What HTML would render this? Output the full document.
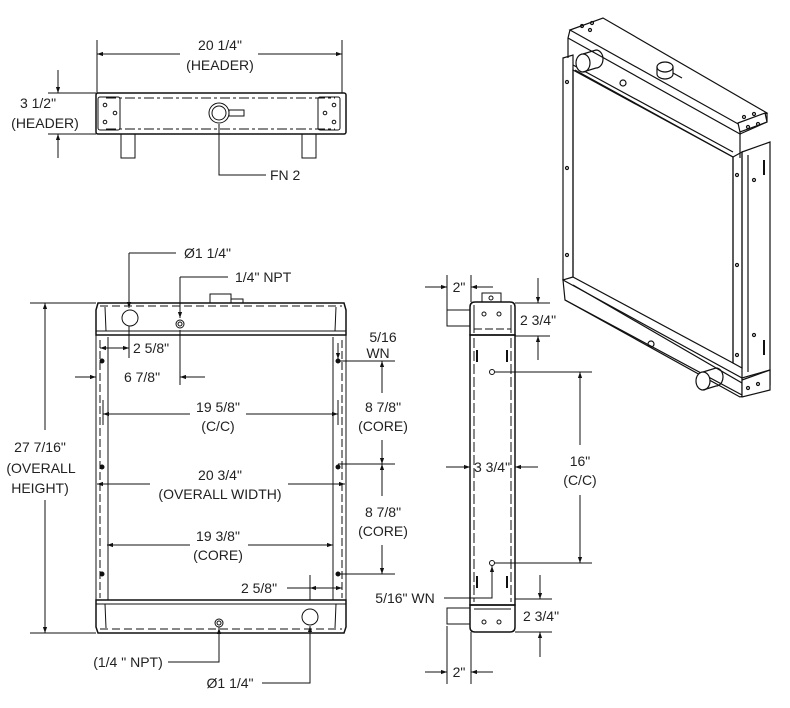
<!DOCTYPE html>
<html><head><meta charset="utf-8"><style>
html,body{margin:0;padding:0;background:#fff;width:790px;height:708px;overflow:hidden}
svg{display:block}
text{font-family:"Liberation Sans",sans-serif;font-size:14px;fill:#222;text-anchor:middle}
</style></head><body>
<svg width="790" height="708" viewBox="0 0 790 708" xmlns="http://www.w3.org/2000/svg">
<defs>
<marker id="a" viewBox="0 0 10 10" refX="10" refY="5" markerWidth="10" markerHeight="6" orient="auto-start-reverse" markerUnits="userSpaceOnUse"><path d="M0,1.5 L10,5 L0,8.5z" fill="#111"/></marker>
</defs>
<g stroke="#111" fill="none" stroke-width="1">
<!-- TOP VIEW -->
<line x1="97" y1="40" x2="97" y2="93"/><line x1="342" y1="40" x2="342" y2="93"/>
<line x1="97" y1="54" x2="180" y2="54" marker-start="url(#a)"/><line x1="258" y1="54" x2="342" y2="54" marker-end="url(#a)"/>
<rect x="96" y="93" width="250" height="41" rx="2" stroke-width="1.5"/>
<line x1="106" y1="98" x2="335" y2="98" stroke-dasharray="10,3,3,3"/>
<line x1="106" y1="129" x2="335" y2="129" stroke-dasharray="10,3,3,3"/>
<rect x="98" y="97" width="22" height="33" rx="2"/><rect x="318" y="97" width="22" height="33" rx="2"/>
<circle cx="105" cy="105" r="1.8"/><circle cx="115" cy="113" r="1.8"/><circle cx="105" cy="122" r="1.8"/>
<circle cx="334" cy="105" r="1.8"/><circle cx="325" cy="113" r="1.8"/><circle cx="334" cy="122" r="1.8"/>
<circle cx="219" cy="113" r="10"/><circle cx="219" cy="113" r="7"/>
<rect x="229" y="110" width="15" height="6"/>
<rect x="121" y="134" width="14" height="24"/><rect x="302" y="134" width="14" height="24"/>
<polyline points="219,124 219,175 266,175"/>
<line x1="48" y1="93" x2="96" y2="93"/><line x1="48" y1="134" x2="96" y2="134"/>
<line x1="58" y1="70" x2="58" y2="93" marker-end="url(#a)"/><line x1="58" y1="158" x2="58" y2="134" marker-end="url(#a)"/>

<!-- FRONT VIEW -->
<path d="M98,303 H344 L346,310 V335 H96 V310z" stroke-width="1.5"/>
<line x1="100" y1="306" x2="342" y2="306" stroke-dasharray="8,4"/>
<line x1="96" y1="331" x2="346" y2="331"/>
<line x1="105" y1="307" x2="106" y2="331"/><line x1="336" y1="307" x2="335" y2="331"/>
<rect x="210" y="294" width="21" height="9"/><rect x="231" y="299" width="12" height="4"/>
<circle cx="130" cy="318" r="8"/>
<circle cx="180" cy="324" r="4"/><circle cx="180" cy="324" r="2"/>
<line x1="96" y1="335" x2="96" y2="600"/><line x1="108" y1="337" x2="108" y2="600"/>
<line x1="100" y1="340" x2="100" y2="598" stroke-dasharray="8,3"/>
<line x1="346" y1="335" x2="346" y2="600"/><line x1="333" y1="337" x2="333" y2="600"/>
<line x1="342" y1="340" x2="342" y2="598" stroke-dasharray="8,3"/>
<circle cx="102" cy="361" r="2" fill="#111"/><circle cx="102" cy="467" r="2" fill="#111"/><circle cx="102" cy="574" r="2" fill="#111"/>
<circle cx="338" cy="361" r="2" fill="#111"/><circle cx="338" cy="467" r="2" fill="#111"/><circle cx="338" cy="574" r="2" fill="#111"/>
<path d="M96,600 H346 V627 L344,633 H98 L96,627z" stroke-width="1.5"/>
<line x1="96" y1="604" x2="346" y2="604"/>
<line x1="100" y1="629" x2="342" y2="629" stroke-dasharray="8,4"/>
<line x1="105" y1="604" x2="106" y2="628"/><line x1="336" y1="604" x2="335" y2="628"/>
<circle cx="219" cy="623" r="4"/><circle cx="219" cy="623" r="2"/>
<circle cx="310" cy="617" r="8"/>
<!-- front dims -->
<polyline points="129,253 176,253"/><line x1="129" y1="253" x2="129" y2="308" marker-end="url(#a)"/>
<polyline points="180,277 228,277"/><line x1="180" y1="277" x2="180" y2="318" marker-end="url(#a)"/>
<line x1="30" y1="303" x2="96" y2="303"/><line x1="30" y1="633" x2="96" y2="633"/>
<line x1="45" y1="430" x2="45" y2="303" marker-end="url(#a)"/><line x1="45" y1="500" x2="45" y2="633" marker-end="url(#a)"/>
<line x1="129" y1="326" x2="129" y2="358"/>
<line x1="100" y1="348" x2="129" y2="348" marker-start="url(#a)" marker-end="url(#a)"/>
<line x1="180" y1="330" x2="180" y2="385"/>
<line x1="75" y1="377" x2="96" y2="377" marker-end="url(#a)"/><line x1="205" y1="377" x2="180" y2="377" marker-end="url(#a)"/>
<line x1="103" y1="400" x2="103" y2="425"/><line x1="338" y1="400" x2="338" y2="425"/>
<line x1="103" y1="414" x2="190" y2="414" marker-start="url(#a)"/><line x1="246" y1="414" x2="338" y2="414" marker-end="url(#a)"/>
<line x1="97" y1="484" x2="150" y2="484" marker-start="url(#a)"/><line x1="288" y1="484" x2="345" y2="484" marker-end="url(#a)"/>
<line x1="107" y1="545" x2="190" y2="545" marker-start="url(#a)"/><line x1="248" y1="545" x2="333" y2="545" marker-end="url(#a)"/>
<line x1="310" y1="575" x2="310" y2="600"/>
<line x1="287" y1="588" x2="310" y2="588"/>
<line x1="310" y1="588" x2="342" y2="588" marker-start="url(#a)" marker-end="url(#a)"/>
<line x1="338" y1="361" x2="395" y2="361"/><line x1="338" y1="343" x2="338" y2="359" marker-end="url(#a)"/>
<line x1="338" y1="464" x2="395" y2="464"/><line x1="340" y1="574" x2="395" y2="574"/>
<line x1="382" y1="393" x2="382" y2="361" marker-end="url(#a)"/><line x1="382" y1="440" x2="382" y2="464" marker-end="url(#a)"/>
<line x1="382" y1="496" x2="382" y2="464" marker-end="url(#a)"/><line x1="382" y1="545" x2="382" y2="574" marker-end="url(#a)"/>
<polyline points="168,662 219,662 219,627"/><line x1="219" y1="660" x2="219" y2="628" marker-end="url(#a)"/>
<polyline points="262,683 310,683 310,626"/><line x1="310" y1="660" x2="310" y2="626" marker-end="url(#a)"/>

<!-- SIDE VIEW -->
<path d="M475,302 H510 Q515,302 515,307 V335 H470 V307 Q470,302 475,302z" stroke-width="1.5"/>
<rect x="482" y="293" width="19" height="9"/><circle cx="491" cy="298" r="2"/>
<rect x="447" y="310" width="23" height="16"/>
<line x1="474" y1="305" x2="474" y2="333"/><line x1="511" y1="305" x2="511" y2="333"/>
<line x1="474" y1="329" x2="511" y2="329" stroke-dasharray="8,3"/>
<circle cx="484" cy="314" r="2"/><circle cx="499" cy="314" r="2"/>
<rect x="470" y="335" width="45" height="270" stroke-width="1.5"/>
<line x1="474" y1="338" x2="474" y2="602" stroke-dasharray="10,3"/><line x1="511" y1="338" x2="511" y2="602" stroke-dasharray="10,3"/>
<line x1="477" y1="350" x2="477" y2="362" stroke-width="2"/><line x1="507" y1="350" x2="507" y2="362" stroke-width="2"/>
<line x1="477" y1="576" x2="477" y2="588" stroke-width="2"/><line x1="507" y1="576" x2="507" y2="588" stroke-width="2"/>
<circle cx="492" cy="372" r="2.5"/><circle cx="492" cy="563" r="2.5"/>
<path d="M470,605 H515 V627 Q515,632 510,632 H475 Q470,632 470,627z" stroke-width="1.5"/>
<line x1="474" y1="609" x2="511" y2="609"/>
<rect x="447" y="608" width="23" height="16"/>
<circle cx="484" cy="622" r="2"/><circle cx="499" cy="622" r="2"/>
<line x1="447" y1="275" x2="447" y2="310"/><line x1="471" y1="275" x2="471" y2="302"/>
<line x1="425" y1="287" x2="447" y2="287" marker-end="url(#a)"/><line x1="493" y1="287" x2="471" y2="287" marker-end="url(#a)"/>
<line x1="515" y1="303" x2="550" y2="303"/><line x1="515" y1="336" x2="550" y2="336"/>
<line x1="538" y1="278" x2="538" y2="303" marker-end="url(#a)"/><line x1="538" y1="360" x2="538" y2="336" marker-end="url(#a)"/>
<line x1="495" y1="372" x2="592" y2="372"/><line x1="495" y1="563" x2="592" y2="563"/>
<line x1="580" y1="445" x2="580" y2="372" marker-end="url(#a)"/><line x1="580" y1="495" x2="580" y2="563" marker-end="url(#a)"/>
<line x1="446" y1="467" x2="470" y2="467" marker-end="url(#a)"/><line x1="538" y1="467" x2="515" y2="467" marker-end="url(#a)"/>
<polyline points="444,598 492,598 492,567"/><line x1="492" y1="590" x2="492" y2="566" marker-end="url(#a)"/>
<line x1="515" y1="599" x2="552" y2="599"/><line x1="515" y1="632" x2="552" y2="632"/>
<line x1="540" y1="575" x2="540" y2="599" marker-end="url(#a)"/><line x1="540" y1="657" x2="540" y2="632" marker-end="url(#a)"/>
<line x1="447" y1="626" x2="447" y2="684"/><line x1="471" y1="632" x2="471" y2="684"/>
<line x1="425" y1="672" x2="447" y2="672" marker-end="url(#a)"/><line x1="493" y1="672" x2="471" y2="672" marker-end="url(#a)"/>

<!-- ISO VIEW -->
<g stroke-width="1.2">
<polygon points="570,30 603,18 767,113 740,125"/>
<polyline points="568,38 740,134 740,125"/>
<line x1="570" y1="30" x2="568" y2="38"/>
<line x1="740" y1="134" x2="767" y2="122"/><line x1="767" y1="113" x2="767" y2="122"/>
<polygon points="738,123 765,113 767,122 740,132" fill="#fff"/>
<line x1="568" y1="38" x2="568" y2="58"/><line x1="740" y1="134" x2="740" y2="158"/>
<polyline points="573,65 733,152"/>
<polyline points="575,70 733,157"/>
<polygon points="563,58 573,55 573,277 563,280"/>
<polygon points="573,70 733,157 733,363 573,277"/>
<polygon points="733,157 742,152 742,368 733,363"/>
<polygon points="742,152 770,142 770,370 742,378"/>
<line x1="748" y1="155" x2="748" y2="372"/>
<polygon points="563,280 742,378 742,395 565,300"/>
<polyline points="565,300 740,397 770,385 770,370"/>
<line x1="573" y1="285" x2="742" y2="383"/>
<polygon points="742,380 770,370 770,390 742,397" fill="#fff"/>
<ellipse cx="583" cy="63" rx="7" ry="9" fill="#fff"/><path d="M583,54 L596,50 A7,9 0 0 1 596,68 L583,72"/>
<ellipse cx="703" cy="381" rx="7" ry="9" fill="#fff"/><path d="M703,372 L716,368 A7,9 0 0 1 716,386 L703,390"/>
<ellipse cx="665" cy="67" rx="8" ry="5" fill="#fff"/><path d="M657,67 V74 A8,5 0 0 0 673,74 V67"/>
<line x1="673" y1="73" x2="682" y2="78"/>
<circle cx="623" cy="83" r="3"/><circle cx="651" cy="344" r="3"/>
<circle cx="567" cy="82" r="1.5"/><circle cx="567" cy="168" r="1.5"/><circle cx="567" cy="255" r="1.5"/>
<circle cx="737" cy="175" r="1.5"/><circle cx="737" cy="265" r="1.5"/><circle cx="737" cy="355" r="1.5"/>
<circle cx="754" cy="180" r="1.5"/><circle cx="754" cy="335" r="1.5"/>
<line x1="764" y1="160" x2="764" y2="175" stroke-width="2"/><line x1="764" y1="340" x2="764" y2="355" stroke-width="2"/>
<circle cx="582" cy="26" r="1.5"/><circle cx="592" cy="23" r="1.5"/><circle cx="590" cy="30" r="1.5"/>
<circle cx="744" cy="117" r="1.5"/><circle cx="754" cy="114" r="1.5"/><circle cx="748" cy="127" r="1.5"/><circle cx="758" cy="124" r="1.5"/>
<circle cx="748" cy="388" r="1.5"/><circle cx="758" cy="384" r="1.5"/>
</g>
</g>
<!-- TEXT -->
<text x="220" y="50">20 1/4"</text><text x="220" y="70">(HEADER)</text>
<text x="38" y="108">3 1/2"</text><text x="45" y="128">(HEADER)</text>
<text x="270" y="180" style="text-anchor:start">FN 2</text>
<text x="184" y="258" style="text-anchor:start">Ø1 1/4"</text>
<text x="235" y="282" style="text-anchor:start">1/4" NPT</text>
<text x="133" y="353" style="text-anchor:start">2 5/8"</text>
<text x="142" y="382">6 7/8"</text>
<text x="383" y="342">5/16</text><text x="378" y="358">WN</text>
<text x="218" y="412">19 5/8"</text><text x="218" y="431">(C/C)</text>
<text x="383" y="412">8 7/8"</text><text x="383" y="431">(CORE)</text>
<text x="40" y="452">27 7/16"</text><text x="41" y="473">(OVERALL</text><text x="40" y="493">HEIGHT)</text>
<text x="220" y="480">20 3/4"</text><text x="220" y="499">(OVERALL WIDTH)</text>
<text x="383" y="517">8 7/8"</text><text x="383" y="536">(CORE)</text>
<text x="218" y="541">19 3/8"</text><text x="218" y="560">(CORE)</text>
<text x="259" y="593">2 5/8"</text>
<text x="405" y="603">5/16" WN</text>
<text x="128" y="667">(1/4 " NPT)</text>
<text x="230" y="688">Ø1 1/4"</text>
<text x="459" y="292">2"</text>
<text x="538" y="325">2 3/4"</text>
<text x="580" y="466">16"</text><text x="580" y="485">(C/C)</text>
<text x="492" y="472">3 3/4"</text>
<text x="541" y="621">2 3/4"</text>
<text x="459" y="677">2"</text>
</svg>
</body></html>
